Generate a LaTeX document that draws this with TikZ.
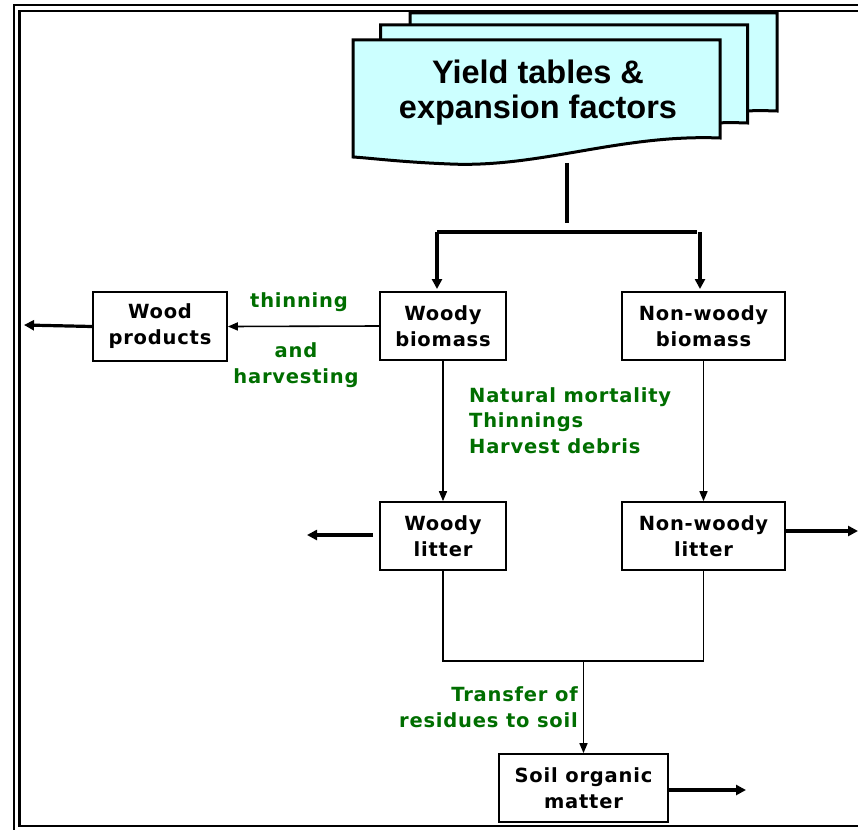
\documentclass[tikz,border=0pt]{standalone}
\usepackage{fontspec}
\setmainfont{Liberation Sans}
\newfontfamily\boxfont[LetterSpace=4]{DejaVu Sans}
\usetikzlibrary{arrows.meta}
\definecolor{docfill}{RGB}{204,255,255}
\definecolor{lblgreen}{RGB}{0,110,0}
\tikzset{
  stepbox/.style={draw, line width=1.7pt, fill=white, align=center, inner sep=0pt,
    font=\boxfont\bfseries\fontsize{19.5}{26}\selectfont},
  thinarrow/.style={line width=1.6pt, -{Triangle[length=10pt,width=8pt]}},
  thickarrow/.style={line width=3.2pt, -{Triangle[length=10pt,width=10pt]}},
  thickline/.style={line width=3.6pt},
  flowline/.style={line width=1.6pt},
  lbl/.style={text=lblgreen, font=\boxfont\bfseries\fontsize{19.5}{26}\selectfont, inner sep=0pt},
  docshape/.style={draw, line width=3pt, fill=docfill, line join=miter}
}
\begin{document}
\begin{tikzpicture}[x=1pt,y=-1pt]
\useasboundingbox (0,0) rectangle (858,829);
\clip (0,0) rectangle (858,829);
% frame
\draw[line width=2.6pt] (14,5) rectangle (880,850);
\draw[line width=2.6pt] (19.5,11) rectangle (875,826);
% document stack
\foreach \dx/\dy in {57/-27, 27.5/-15, 0/0}{
  \draw[docshape, shift={(\dx,\dy)}] (353,40) -- (720,40) -- (720,138)
    .. controls (620,134) and (540,168) .. (450,164)
    .. controls (400,162) and (370,158) .. (353,157) -- cycle;
}
\node[font=\bfseries\fontsize{32.5}{35}\selectfont, align=center, inner sep=0pt] (doc) at (538,93) {Yield tables \&\\expansion factors};
\coordinate (docb) at (567,163);
\coordinate (split) at (567,223);
\coordinate (hl) at (437,232);
\coordinate (hr) at (697,232);
% boxes
\node[stepbox, minimum width=134pt, minimum height=69pt] (wp) at (160,326.5) {Wood\\products};
\node[stepbox, minimum width=126pt, minimum height=68pt] (wb) at (443,326) {Woody\\biomass};
\node[stepbox, minimum width=163pt, minimum height=68pt] (nwb) at (703.5,326) {Non-woody\\biomass};
\node[stepbox, minimum width=126pt, minimum height=68pt] (wl) at (443,536) {Woody\\litter};
\node[stepbox, minimum width=163pt, minimum height=68pt] (nwl) at (703.5,536) {Non-woody\\litter};
\node[stepbox, minimum width=169pt, minimum height=68pt] (som) at (583.5,788) {Soil organic\\matter};
% top split
\draw[thickline] (docb) -- (split);
\draw[thickline] (hl) -- (hr);
\draw[thickarrow] (hl) -- (437,289);
\draw[thickarrow] (700,232) -- (700,289);
% biomass flows
\draw[thinarrow] (wb.west) -- (wp.east);
\coordinate (wpout) at (24,325);
\draw[thickarrow] (wp.west) -- (wpout);
\node[lbl] (thin) at (299,302) {thinning};
\node[lbl, align=center] (harv) at (296,365) {and\\harvesting};
\draw[thinarrow] (wb.south) -- (wl.north);
\draw[thinarrow] (nwb.south) -- (nwl.north);
\node[lbl, align=left, anchor=north west, font=\boxfont\bfseries\fontsize{19.5}{25.5}\selectfont] (mort) at (469,387) {Natural mortality\\Thinnings\\Harvest debris};
% litter outflows
\coordinate (wlout0) at (373,535);
\coordinate (wlout) at (307,535);
\draw[thickarrow] (wlout0) -- (wlout);
\coordinate (nwlout) at (858,531);
\draw[thickarrow] (nwl.east |- nwlout) -- (nwlout);
% merge to soil
\coordinate (mergel) at (443,661);
\coordinate (merger) at (703.5,661);
\coordinate (mergec) at (583.5,661);
\draw[flowline] (wl.south) -- (mergel) -- (merger) -- (nwl.south);
\draw[thinarrow] (mergec) -- (som.north);
\node[lbl, align=right, anchor=east] (transfer) at (578,707) {Transfer of\\residues to soil};
\coordinate (somout) at (746,790);
\draw[thickarrow] (som.east |- somout) -- (somout);
\end{tikzpicture}
\end{document}
